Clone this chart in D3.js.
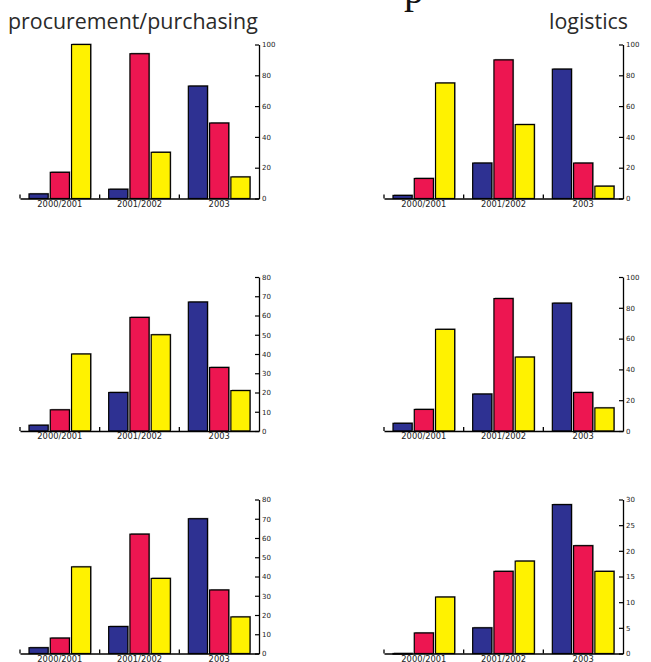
<!DOCTYPE html>
<html><head><meta charset="utf-8">
<script src="https://cdn.jsdelivr.net/npm/d3@7"></script>
<style>body{margin:0;background:#fff}svg{display:block}</style>
</head><body>
<script>
const categories = ["2000/2001","2001/2002","2003"];
const seriesNames = ["blue","red","yellow"];
const seriesColors = ["#2e3192","#ed1651","#fff200"];
const columnTitles = ["procurement/purchasing","logistics"];

// panels: row-major, left column then right column
const p1Blue=[3,6,73],   p1Red=[17,94,49], p1Yellow=[100,30,14];
const p2Blue=[2,23,84],  p2Red=[13,90,23], p2Yellow=[75,48,8];
const p3Blue=[3,20,67],  p3Red=[11,59,33], p3Yellow=[40,50,21];
const p4Blue=[5,24,83],  p4Red=[14,86,25], p4Yellow=[66,48,15];
const p5Blue=[3,14,70],  p5Red=[8,62,33],  p5Yellow=[45,39,19];
const p6Blue=[0,5,29],   p6Red=[4,16,21],  p6Yellow=[11,18,16];
const yMaxes=[100,100,80,100,80,30];
const yTicks1=[0,20,40,60,80,100];
const yTicks2=[0,10,20,30,40,50,60,70,80];
const yTicks3=[0,5,10,15,20,25,30];

const panels=[
 {vals:[p1Blue,p1Red,p1Yellow],max:yMaxes[0],ticks:yTicks1},
 {vals:[p2Blue,p2Red,p2Yellow],max:yMaxes[1],ticks:yTicks1},
 {vals:[p3Blue,p3Red,p3Yellow],max:yMaxes[2],ticks:yTicks2},
 {vals:[p4Blue,p4Red,p4Yellow],max:yMaxes[3],ticks:yTicks1},
 {vals:[p5Blue,p5Red,p5Yellow],max:yMaxes[4],ticks:yTicks2},
 {vals:[p6Blue,p6Red,p6Yellow],max:yMaxes[5],ticks:yTicks3}
];

const W=651,H=662;
const svg=d3.select("body").append("svg").attr("width",W).attr("height",H);

// cut-off heading remnant at the top edge
svg.append("text").attr("x",404).attr("y",3).attr("font-family","Liberation Serif, serif")
  .attr("font-size",40).attr("fill","#111").text("p");

svg.append("text").attr("x",8).attr("y",29).attr("font-family","Open Sans, sans-serif")
  .attr("font-size",21.4).attr("fill","#2a2a2a").text(columnTitles[0]);
svg.append("text").attr("x",628).attr("y",29).attr("text-anchor","end").attr("font-family","Open Sans, sans-serif")
  .attr("font-size",21.4).attr("fill","#2a2a2a").text(columnTitles[1]);

const colX=[20,384], rowTop=[44.5,277,499.5], ph=154, pw=239;

panels.forEach((p,i)=>{
  const col=i%2,row=Math.floor(i/2);
  const g=svg.append("g").attr("transform",`translate(${colX[col]},${rowTop[row]})`);
  const x=d3.scaleBand().domain(categories).range([0,pw]).padding(0);
  const xi=d3.scaleBand().domain(seriesNames).range([9,x.bandwidth()-9]).paddingInner(0.1);
  const y=d3.scaleLinear().domain([0,p.max]).range([ph,0]);

  categories.forEach((c,ci)=>{
    seriesNames.forEach((s,si)=>{
      const v=p.vals[si][ci];
      const bx=x(c)+xi(s), by=y(v), bh=Math.max(ph-y(v),0.6);
      g.append("rect").attr("x",bx+1).attr("y",by-1).attr("width",xi.bandwidth()).attr("height",bh)
        .attr("fill","#9a9a9a");
      g.append("rect").attr("x",bx).attr("y",by).attr("width",xi.bandwidth()).attr("height",bh)
        .attr("fill",seriesColors[si]).attr("stroke","#000").attr("stroke-width",1.2);
    });
  });

  // x axis
  const xa=g.append("g").attr("transform",`translate(0,${ph})`)
    .call(d3.axisBottom(x).tickSize(0).tickPadding(2.5));
  xa.select(".domain").attr("stroke","#000").attr("stroke-width",1.3);
  xa.selectAll("text").attr("font-family","DejaVu Sans, sans-serif").attr("font-size",8.3).attr("fill","#222");
  g.selectAll(".bt").data(categories).join("line").attr("class","bt")
    .attr("x1",d=>x(d)).attr("x2",d=>x(d)).attr("y1",ph).attr("y2",ph-4)
    .attr("stroke","#000").attr("stroke-width",1.3);

  // y axis right
  const ya=g.append("g").attr("transform",`translate(${pw},0)`)
    .call(d3.axisRight(y).tickValues(p.ticks).tickSizeInner(-4).tickSizeOuter(0).tickPadding(3));
  ya.select(".domain").attr("stroke","#000").attr("stroke-width",1.3);
  ya.selectAll(".tick line").attr("stroke","#000").attr("stroke-width",1.2);
  ya.selectAll("text").attr("font-family","DejaVu Sans, sans-serif").attr("font-size",7).attr("fill","#222");
});
</script>
</body></html>
